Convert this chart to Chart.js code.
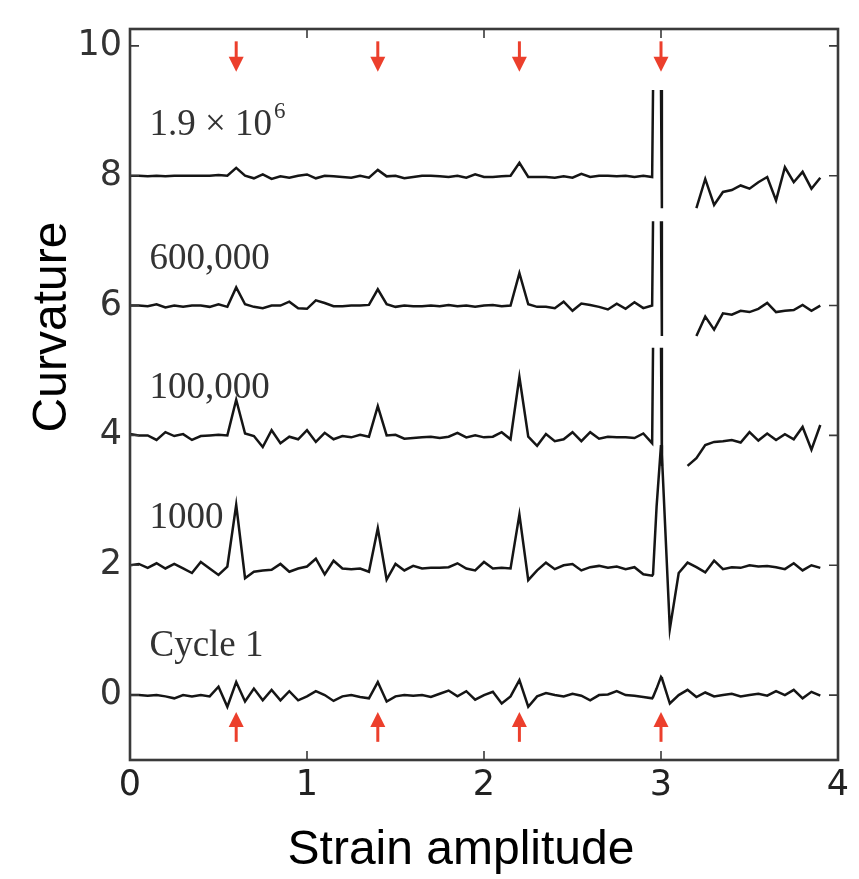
<!DOCTYPE html>
<html lang="en">
<head>
  <meta charset="UTF-8">
  <title>Curvature vs strain amplitude</title>
  <script src="https://cdn.jsdelivr.net/npm/chart.js"></script>
  <style>
    body { margin: 0; background: #fff; }
    #wrap { width: 859px; height: 879px; }
  </style>
</head>
<body>
  <div id="wrap"><canvas id="chart"></canvas></div>

  <script>
    // strain grid shared by all curves (extra points near 3.0 for the breaks)
    const strain = [0, 0.05, 0.1, 0.15, 0.2, 0.25, 0.3, 0.35, 0.4, 0.45,
      0.5, 0.55, 0.6, 0.65, 0.7, 0.75, 0.8, 0.85, 0.9, 0.95,
      1.0, 1.05, 1.1, 1.15, 1.2, 1.25, 1.3, 1.35, 1.4, 1.45,
      1.5, 1.55, 1.6, 1.65, 1.7, 1.75, 1.8, 1.85, 1.9, 1.95,
      2.0, 2.05, 2.1, 2.15, 2.2, 2.25, 2.3, 2.35, 2.4, 2.45,
      2.5, 2.55, 2.6, 2.65, 2.7, 2.75, 2.8, 2.85, 2.9,
      2.95, 2.955, 2.975, 3.0, 3.005,
      3.05, 3.1, 3.15, 3.2, 3.25, 3.3, 3.35, 3.4, 3.45, 3.5,
      3.55, 3.6, 3.65, 3.7, 3.75, 3.8, 3.85, 3.9];

    const cycle1 = [0.0, 0.0, -0.01, 0.0, -0.02, -0.05, 0.0, -0.02, 0.0, -0.02,
      0.13, -0.18, 0.2, -0.1, 0.1, -0.08, 0.08, -0.08, 0.06, -0.08,
      -0.02, 0.06, 0.0, -0.09, -0.02, 0.0, -0.03, -0.05, 0.2, -0.1,
      -0.02, 0.0, -0.01, 0.0, -0.03, 0.02, 0.07, -0.02, 0.06, -0.07,
      0.0, 0.05, -0.13, -0.02, 0.23, -0.18, -0.02, 0.03, 0.0, -0.02,
      0.02, -0.01, -0.08, 0.0, 0.01, 0.06, 0.0, -0.01, -0.03,
      -0.05, -0.03, 0.1, 0.28, 0.26,
      -0.13, 0.0, 0.08, -0.03, 0.04, -0.02, 0.0, 0.02, -0.02, 0.0,
      0.02, -0.01, 0.06, 0.0, 0.08, -0.05, 0.05, -0.01];

    const cycle1000 = [2.0, 2.02, 1.96, 2.03, 1.95, 2.02, 1.95, 1.88, 2.05, 1.95,
      1.85, 1.98, 2.93, 1.8, 1.9, 1.92, 1.93, 2.02, 1.9, 1.95,
      1.98, 2.1, 1.86, 2.07, 1.95, 1.94, 1.95, 1.9, 2.57, 1.78,
      2.02, 1.92, 1.99, 1.95, 1.96, 1.96, 1.97, 2.03, 1.95, 1.92,
      2.05, 1.95, 1.96, 1.95, 2.78, 1.77, 1.92, 2.04, 1.94, 2.0,
      2.02, 1.92, 1.97, 1.99, 1.96, 1.98, 1.94, 1.97, 1.86,
      1.84, 1.86, 2.9, 3.85, 3.7,
      1.02, 1.88, 2.04, 1.97, 1.89, 2.07, 1.94, 1.97, 1.96, 2.0,
      1.98, 1.99, 1.97, 1.94, 2.03, 1.92, 2.0, 1.96];

    const cycle100k = [4.02, 4.0, 4.0, 3.93, 4.05, 3.99, 4.02, 3.93, 3.99, 4.0,
      4.01, 4.0, 4.55, 4.03, 3.99, 3.82, 4.08, 3.88, 3.98, 3.94,
      4.08, 3.9, 4.04, 3.94, 3.99, 3.97, 4.01, 3.98, 4.45, 4.0,
      4.01, 3.95, 3.96, 3.97, 3.98, 3.96, 3.98, 4.04, 3.97, 4.0,
      3.97, 3.98, 4.05, 3.94, 4.9, 3.98, 3.84, 4.02, 3.91, 3.94,
      4.05, 3.91, 4.05, 3.95, 3.98, 3.97, 3.97, 3.96, 4.03,
      3.88, 5.35, null, 5.35, 3.53,
      null, null, 3.53, 3.65, 3.85, 3.9, 3.91, 3.93, 3.89, 4.05,
      3.92, 4.03, 3.93, 4.02, 3.94, 4.13, 3.78, 4.16];

    const cycle600k = [6.0, 6.0, 5.99, 6.02, 5.97, 6.0, 5.98, 6.0, 6.0, 5.98,
      6.02, 5.98, 6.28, 6.02, 5.98, 5.96, 6.0, 6.0, 6.06, 5.96,
      5.95, 6.08, 6.04, 5.99, 5.99, 6.0, 6.0, 6.01, 6.25, 6.02,
      5.98, 6.0, 5.99, 5.99, 6.0, 5.99, 6.01, 5.99, 6.0, 5.98,
      6.0, 6.01, 5.99, 6.0, 6.5, 6.02, 5.98, 5.98, 5.96, 6.06,
      5.92, 6.03, 6.01, 5.98, 5.94, 6.03, 5.95, 6.05, 5.96,
      6.0, 7.3, null, 7.3, 5.53,
      null, null, null, 5.53, 5.83, 5.63, 5.88, 5.86, 5.92, 5.9,
      5.95, 6.04, 5.9, 5.92, 5.93, 6.01, 5.92, 6.0];

    const cycle19M = [8.0, 8.0, 7.99, 8.0, 7.99, 8.0, 8.0, 8.0, 8.0, 8.0,
      8.01, 8.0, 8.12, 8.0, 7.96, 8.02, 7.95, 7.99, 7.97, 8.0,
      8.02, 7.96, 8.0, 7.99, 7.98, 7.97, 8.0, 7.97, 8.09, 7.99,
      8.0, 7.96, 7.98, 8.0, 8.0, 7.99, 7.98, 8.0, 7.97, 8.02,
      7.98, 7.98, 7.99, 8.0, 8.2, 7.98, 7.98, 7.98, 7.97, 7.99,
      7.97, 8.03, 7.98, 8.0, 8.0, 7.99, 8.0, 7.98, 8.0,
      7.98, 9.32, null, 9.32, 7.5,
      null, null, null, 7.5, 7.95, 7.55, 7.75, 7.78, 7.85, 7.8,
      7.9, 7.98, 7.62, 8.13, 7.9, 8.06, 7.8, 7.97];

    const xTicks = [0, 1, 2, 3, 4];
    const yTicks = [0, 2, 4, 6, 8, 10];

    // red arrows marking the strain steps
    const arrowStrain = [0.6, 1.4, 2.2, 3.0];
    const topArrow = [10.07, 9.6];      // tail, tip
    const bottomArrow = [-0.72, -0.26]; // tail, tip

    // curve labels: text, superscript, strain, curvature (baseline)
    const curveLabels = [
      ['Cycle 1', '', 0.11, 0.6],
      ['1000', '', 0.11, 2.58],
      ['100,000', '', 0.11, 4.58],
      ['600,000', '', 0.11, 6.56],
      ['1.9 \u00d7 10', '6', 0.11, 8.62]
    ];

    const series = [cycle1, cycle1000, cycle100k, cycle600k, cycle19M];

    const datasets = series.map(ys => ({
      data: strain.map((x, i) => ({ x: x, y: ys[i] })),
      borderColor: '#151515',
      borderWidth: 2.5,
      pointRadius: 0,
      tension: 0,
      spanGaps: false
    }));

    const decor = {
      id: 'decor',
      afterDatasetsDraw(chart) {
        const ctx = chart.ctx;
        const xs = chart.scales.x, ys = chart.scales.y;
        ctx.save();
        // arrows
        ctx.strokeStyle = '#ec3f2c';
        ctx.fillStyle = '#ec3f2c';
        ctx.lineWidth = 3;
        const drawArrow = (xv, pair) => {
          const px = xs.getPixelForValue(xv);
          const tail = ys.getPixelForValue(pair[0]);
          const tip = ys.getPixelForValue(pair[1]);
          const dir = tip > tail ? 1 : -1;
          const head = 15;
          ctx.beginPath();
          ctx.moveTo(px, tail);
          ctx.lineTo(px, tip - dir * head * 0.6);
          ctx.stroke();
          ctx.beginPath();
          ctx.moveTo(px, tip);
          ctx.lineTo(px - 7.5, tip - dir * head);
          ctx.lineTo(px + 7.5, tip - dir * head);
          ctx.closePath();
          ctx.fill();
        };
        arrowStrain.forEach(v => {
          drawArrow(v, topArrow);
          drawArrow(v, bottomArrow);
        });
        // curve labels
        ctx.fillStyle = '#333';
        ctx.textBaseline = 'alphabetic';
        ctx.textAlign = 'left';
        curveLabels.forEach(l => {
          const px = xs.getPixelForValue(l[2]);
          const py = ys.getPixelForValue(l[3]);
          ctx.font = '37px "Liberation Serif", "DejaVu Serif", serif';
          ctx.fillText(l[0], px, py);
          if (l[1]) {
            const w = ctx.measureText(l[0]).width;
            ctx.font = '23px "Liberation Serif", "DejaVu Serif", serif';
            ctx.fillText(l[1], px + w + 2, py - 17);
          }
        });
        ctx.restore();
      },
      afterDraw(chart) {
        const ctx = chart.ctx;
        const a = chart.chartArea;
        const xs = chart.scales.x, ys = chart.scales.y;
        ctx.save();
        ctx.strokeStyle = '#3a3a3a';
        ctx.lineWidth = 1.6;
        const tl = 9;
        xTicks.forEach(v => {
          const px = xs.getPixelForValue(v);
          ctx.beginPath();
          ctx.moveTo(px, a.bottom); ctx.lineTo(px, a.bottom - tl);
          ctx.moveTo(px, a.top); ctx.lineTo(px, a.top + tl);
          ctx.stroke();
        });
        yTicks.forEach(v => {
          const py = ys.getPixelForValue(v);
          ctx.beginPath();
          ctx.moveTo(a.left, py); ctx.lineTo(a.left + tl, py);
          ctx.moveTo(a.right, py); ctx.lineTo(a.right - tl, py);
          ctx.stroke();
        });
        ctx.lineWidth = 2.6;
        ctx.strokeRect(a.left, a.top, a.right - a.left, a.bottom - a.top);
        // axis titles
        ctx.fillStyle = '#000';
        ctx.font = '48px "Liberation Sans", Arial, sans-serif';
        ctx.textAlign = 'center';
        ctx.textBaseline = 'alphabetic';
        ctx.fillText('Strain amplitude', 461, 864);
        ctx.translate(66, 327);
        ctx.rotate(-Math.PI / 2);
        ctx.fillText('Curvature', 0, 0);
        ctx.restore();
      }
    };

    const tickFont = { family: '"DejaVu Sans", sans-serif', size: 35 };

    new Chart(document.getElementById('chart').getContext('2d'), {
      type: 'line',
      data: { datasets },
      options: {
        responsive: true,
        maintainAspectRatio: false,
        animation: false,
        events: [],
        layout: { padding: { top: 18, right: 21, left: 0, bottom: 0 } },
        plugins: { legend: { display: false }, tooltip: { enabled: false } },
        scales: {
          x: {
            type: 'linear',
            min: 0,
            max: 4,
            afterBuildTicks: s => { s.ticks = xTicks.map(v => ({ value: v })); },
            afterFit: s => { s.height = 119; },
            grid: { display: false, drawTicks: false },
            border: { display: false },
            ticks: { font: tickFont, color: '#222', padding: 5, maxRotation: 0 }
          },
          y: {
            min: -1,
            max: 10.26,
            afterBuildTicks: s => { s.ticks = yTicks.map(v => ({ value: v })); },
            afterFit: s => { s.width = 130; },
            grid: { display: false, drawTicks: false },
            border: { display: false },
            ticks: { font: tickFont, color: '#333', padding: 8 }
          }
        }
      },
      plugins: [decor]
    });
  </script>
</body>
</html>
